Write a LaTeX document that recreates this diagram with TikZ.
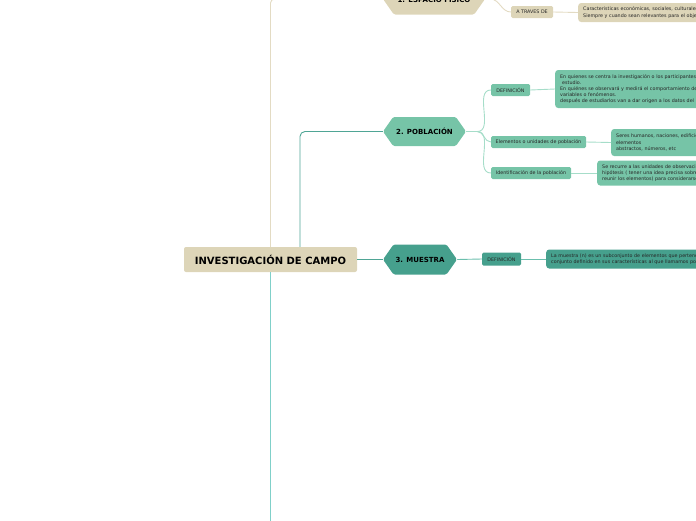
\documentclass[tikz,border=0pt]{standalone}
\usepackage{fontspec}
\setmainfont{DejaVu Sans}
\usetikzlibrary{shapes.symbols}

\definecolor{beige}{HTML}{DDD5B8}
\definecolor{beigeline}{HTML}{E3DBC3}
\definecolor{pobgreen}{HTML}{76C4A7}
\definecolor{pobline}{HTML}{A6DDC9}
\definecolor{muesteal}{HTML}{46A08D}
\definecolor{muesline}{HTML}{6BBFAD}
\definecolor{darkteal}{HTML}{4FA595}
\definecolor{trunkteal}{HTML}{80D0C9}

\begin{document}
\begin{tikzpicture}[x=1pt,y=-1pt,
  hexa/.style={shape=signal,signal to=east and west,signal pointer angle=110,
    rounded corners=1.5pt,inner sep=1pt,font=\bfseries\fontsize{7}{8}\selectfont},
  tag/.style={rounded corners=1.5pt,minimum height=12pt,inner sep=2pt,
    font=\fontsize{4.8}{5.5}\selectfont,text=black!85},
  txtbox/.style={rounded corners=3pt,anchor=west,align=left,text width=210pt,
    inner xsep=5pt,inner ysep=3pt,font=\fontsize{4.8}{6.2}\selectfont,text=black!85},
  lk/.style={line width=0.9pt}]
  \useasboundingbox (0,0) rectangle (696,520);
  \clip (0,0) rectangle (696,520);

  % central topic
  \node[fill=beige,rounded corners=2pt,minimum width=173pt,minimum height=25pt,
    font=\bfseries\fontsize{10}{12}\selectfont] (inv) at (270.5,259.5) {INVESTIGACIÓN DE CAMPO};
  \coordinate (bot) at (270.5,530);

  % 1. espacio fisico
  \node[hexa,fill=beige,minimum width=102pt,minimum height=31pt] (esp) at (434,-1) {1. ESPACIO FÍSICO};
  \node[tag,fill=beige,minimum width=42pt] (atr) at (532,12) {A TRAVES DE};
  \node[txtbox,fill=beige,minimum height=19pt] (car) at (578,12.5)
    {Caracteristicas económicas, sociales, culturales\\Siempre y cuando sean relevantes para el objet};

  % 2. poblacion
  \node[hexa,fill=pobgreen,minimum width=83pt,minimum height=29pt] (pob) at (424.5,131.5) {2. POBLACIÓN};
  \node[tag,fill=pobgreen,minimum width=39pt] (def2) at (510.5,90) {DEFINICIÓN};
  \node[tag,fill=pobgreen,minimum width=95pt] (ele) at (538.5,142) {Elementos o unidades de población};
  \node[tag,fill=pobgreen,minimum width=80pt] (ide) at (531,173) {Identificación de la población};
  \node[txtbox,fill=pobgreen,minimum height=38pt] (defbox) at (555,89)
    {En quienes se centra la investigación o los participantes\\\hspace*{2pt}estudio.\\
     En quiénes se observará y medirá el comportamiento de\\variables o fenómenos.\\
     después de estudiarlos van a dar origen a los datos del};
  \node[txtbox,fill=pobgreen,minimum height=27pt] (elebox) at (611,142.5)
    {Seres humanos, naciones, edificio\\elementos\\abstractos, números, etc};
  \node[txtbox,fill=pobgreen,minimum height=25pt] (idebox) at (597,173)
    {Se recurre a las unidades de observaci\\hipótesis ( tener una idea precisa sobre\\reunir los elementos) para considerarse};

  % 3. muestra
  \node[hexa,fill=muesteal,minimum width=74pt,minimum height=30pt] (mue) at (420,259.5) {3. MUESTRA};
  \node[tag,fill=muesteal,minimum width=39pt,minimum height=13pt] (def3) at (501.5,259) {DEFINICIÓN};
  \node[txtbox,fill=muesteal,minimum height=19pt] (muebox) at (546,259)
    {La muestra (n) es un subconjunto de elementos que pertene\\conjunto definido en sus características al que llamamos po};

  % connectors
  \draw[lk,beigeline,rounded corners=4pt] (inv.north) |- (esp.west);
  \draw[lk,beigeline] (esp.east) -- ++(5,0) to[out=0,in=180] (atr.west);
  \draw[lk,beigeline] (atr.east) -- (car.west);
  \draw[lk,trunkteal] (inv.south) -- (bot);

  \draw[lk,darkteal,rounded corners=5pt] ([xshift=29.5pt]inv.north) |- (pob.west);
  \draw[lk,pobline] (pob.east) -- ++(11,0) coordinate (pj);
  \draw[lk,pobline] (pj) to[out=0,in=180] (def2.west);
  \draw[lk,pobline] (pj) to[out=0,in=180] (ele.west);
  \draw[lk,pobline] (pj) to[out=0,in=180] (ide.west);
  \draw[lk,pobline] (def2.east) -- (defbox.west);
  \draw[lk,pobline] (ele.east) -- (elebox.west);
  \draw[lk,pobline] (ide.east) -- (idebox.west);

  \draw[lk,darkteal] (inv.east) -- (mue.west);
  \draw[lk,muesline] (mue.east) -- (def3.west);
  \draw[lk,muesline] (def3.east) -- (muebox.west);
\end{tikzpicture}
\end{document}
